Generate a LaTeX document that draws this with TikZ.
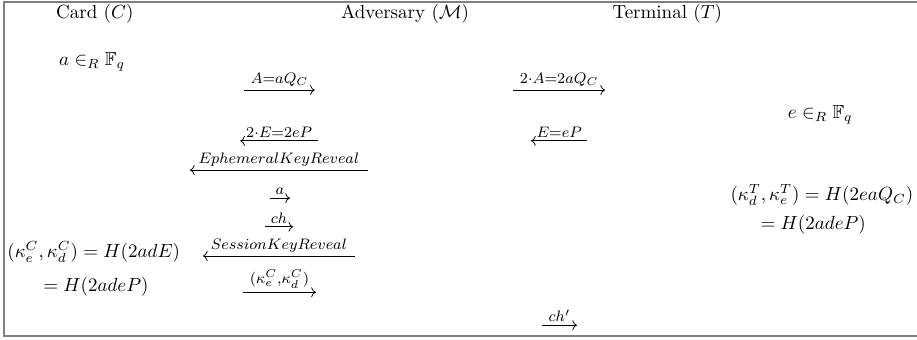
\documentclass[tikz,border=0pt]{standalone}
\usepackage{amsmath}
\usepackage{amssymb}
\usetikzlibrary{arrows.meta, positioning}

\begin{document}
\begin{tikzpicture}[
    party/.style={inner sep=1pt},
    calc/.style={inner sep=1pt},
    msg/.style={->, line width=0.4pt},
    lbl/.style={above, inner sep=1.8pt, font=\large}
]
\useasboundingbox (-0.074,-0.056) rectangle (16.89,6.216);
\draw[gray, line width=0.8pt] (16.89,6.18) -- (0,6.18) -- (0,0) -- (16.89,0);

% parties
\node[party] (card) at (1.68,5.96) {Card $(C)$};
\node[party] (adv) at (7.42,5.96) {Adversary $(\mathcal{M})$};
\node[party] (term) at (12.27,5.96) {Terminal $(T)$};

% local computations
\node[calc] (pickA) at (1.63,5.07) {$a \in_R \mathbb{F}_q$};
\node[calc] (pickE) at (15.10,4.09) {$e \in_R \mathbb{F}_q$};
\node[calc] (keyC) at (1.66,1.55) {$(\kappa_e^C,\kappa_d^C) = H(2adE)$};
\node[calc] (keyC2) at (1.70,0.91) {$= H(2adeP)$};
\node[calc] (keyT) at (15.13,2.61) {$(\kappa_d^T,\kappa_e^T) = H(2eaQ_C)$};
\node[calc] (keyT2) at (14.97,2.05) {$= H(2adeP)$};

% message ends
\coordinate (m1s) at (4.44,4.55);  \coordinate (m1e) at (5.75,4.55);
\coordinate (m2s) at (9.42,4.55);  \coordinate (m2e) at (11.12,4.55);
\coordinate (m3s) at (10.79,3.61); \coordinate (m3e) at (9.75,3.61);
\coordinate (m4s) at (5.81,3.61);  \coordinate (m4e) at (4.37,3.61);
\coordinate (m5s) at (6.73,3.07);  \coordinate (m5e) at (3.44,3.07);
\coordinate (m6s) at (4.92,2.55);  \coordinate (m6e) at (5.29,2.55);
\coordinate (m7s) at (4.83,2.02);  \coordinate (m7e) at (5.35,2.02);
\coordinate (m8s) at (6.49,1.48);  \coordinate (m8e) at (3.68,1.48);
\coordinate (m9s) at (4.42,0.81);  \coordinate (m9e) at (5.77,0.81);
\coordinate (m10s) at (9.95,0.20); \coordinate (m10e) at (10.60,0.20);

\draw[msg] (m1s) -- node[lbl] (l1) {$\scriptstyle A=aQ_C$} (m1e);
\draw[msg] (m2s) -- node[lbl] (l2) {$\scriptstyle 2\cdot A=2aQ_C$} (m2e);
\draw[msg] (m3s) -- node[lbl] (l3) {$\scriptstyle E=eP$} (m3e);
\draw[msg] (m4s) -- node[lbl] (l4) {$\scriptstyle 2\cdot E=2eP$} (m4e);
\draw[msg] (m5s) -- node[lbl] (l5) {$\scriptstyle EphemeralKeyReveal$} (m5e);
\draw[msg] (m6s) -- node[lbl] (l6) {$\scriptstyle a$} (m6e);
\draw[msg] (m7s) -- node[lbl] (l7) {$\scriptstyle ch$} (m7e);
\draw[msg] (m8s) -- node[lbl] (l8) {$\scriptstyle SessionKeyReveal$} (m8e);
\draw[msg] (m9s) -- node[lbl] (l9) {$\scriptstyle (\kappa_e^C,\kappa_d^C)$} (m9e);
\draw[msg] (m10s) -- node[lbl] (l10) {$\scriptstyle ch'$} (m10e);

\end{tikzpicture}
\end{document}
